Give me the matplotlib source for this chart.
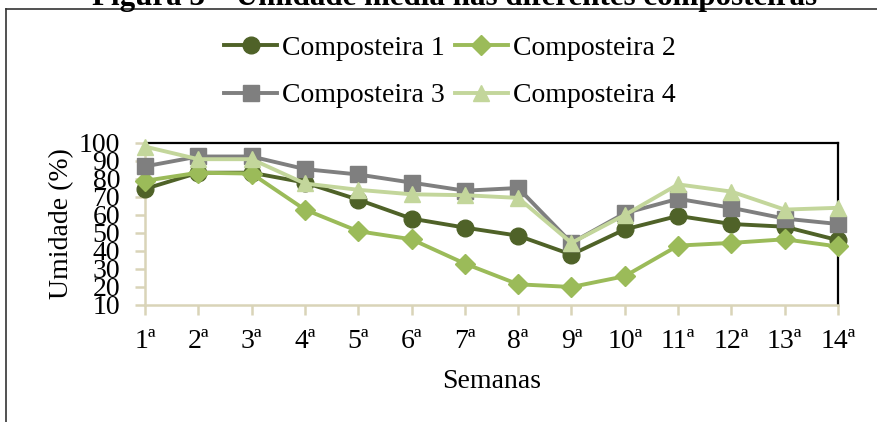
import matplotlib
matplotlib.use("Agg")
import matplotlib.pyplot as plt
from matplotlib.lines import Line2D

plt.rcParams['font.family'] = ['Liberation Serif', 'DejaVu Serif']

weeks = ["1ª", "2ª", "3ª", "4ª", "5ª", "6ª", "7ª", "8ª", "9ª", "10ª", "11ª", "12ª", "13ª", "14ª"]
comp1 = [74.5, 83.5, 83.5, 78, 68.5, 58, 53, 48.5, 38, 52, 59.5, 55, 53.5, 46]
comp2 = [79, 83.5, 83, 63, 51, 46.5, 33, 21.5, 20, 26, 43, 44.5, 46.5, 42.5]
comp3 = [87, 92.5, 92.5, 85.5, 82.5, 78, 73.5, 75, 44.5, 61, 69, 64, 58, 55]
comp4 = [98, 91, 91, 77.5, 74, 71.5, 71, 69.5, 44.5, 60, 77, 73, 63, 64]
yticks = [10, 20, 30, 40, 50, 60, 70, 80, 90, 100]

series = [
    ("Composteira 1", comp1, "#4F6228", "o", 12),
    ("Composteira 2", comp2, "#9BBB59", "D", 10),
    ("Composteira 3", comp3, "#7F7F7F", "s", 11),
    ("Composteira 4", comp4, "#C3D69B", "^", 12),
]

W, H = 877, 422
fig = plt.figure(figsize=(W / 100, H / 100), dpi=100)
ax = fig.add_axes([145 / W, 1 - 305 / H, (838 - 145) / W, (305 - 143) / H])

x = list(range(len(weeks)))
handles = []
for name, vals, col, mk, ms in series:
    ln, = ax.plot(x, vals, color=col, lw=2.8, marker=mk, markersize=ms,
                  markerfacecolor=col, markeredgecolor=col, clip_on=False, label=name, zorder=3)
    handles.append(ln)

ax.set_xlim(0, len(weeks) - 1)
ax.set_ylim(10, 100)
ax.set_yticks(yticks)
ax.set_yticklabels([str(v) for v in yticks], fontsize=20)
ax.set_xticks(x)
ax.set_xticklabels(weeks, fontsize=20)

tan = "#D9D4B8"
ax.spines['left'].set_color(tan)
ax.spines['bottom'].set_color(tan)
ax.spines['left'].set_linewidth(1.8)
ax.spines['bottom'].set_linewidth(1.8)
ax.spines['top'].set_color("black")
ax.spines['right'].set_color("black")
ax.spines['top'].set_linewidth(1.6)
ax.spines['right'].set_linewidth(1.6)
ax.tick_params(axis='both', colors=tan, length=7, width=1.8, direction='out')
ax.tick_params(axis='x', labelcolor='black', pad=10)
ax.tick_params(axis='y', labelcolor='black', pad=11)

ax.set_ylabel("Umidade (%)", fontsize=20, labelpad=3)
ax.set_xlabel("Semanas", fontsize=20, labelpad=11)

order = [handles[0], handles[2], handles[1], handles[3]]
fig.legend(handles=order, loc='center', bbox_to_anchor=(450 / W, 1 - 72 / H),
           ncol=2, frameon=False, fontsize=20, handlelength=1.9, handletextpad=0.18,
           columnspacing=0.36, labelspacing=0.78)

fig.text(817 / W, 1 - 5 / H, "Figura 3 – Umidade média nas diferentes composteiras",
         ha='right', va='baseline', fontsize=22.3, fontweight='bold')

fig.add_artist(Line2D([6 / W, 6 / W], [0, 1 - 8.5 / H], color="#333333", lw=1.2))
fig.add_artist(Line2D([6 / W, 1], [1 - 8.5 / H, 1 - 8.5 / H], color="#333333", lw=1.2))

fig.savefig("out.png", dpi=100)
